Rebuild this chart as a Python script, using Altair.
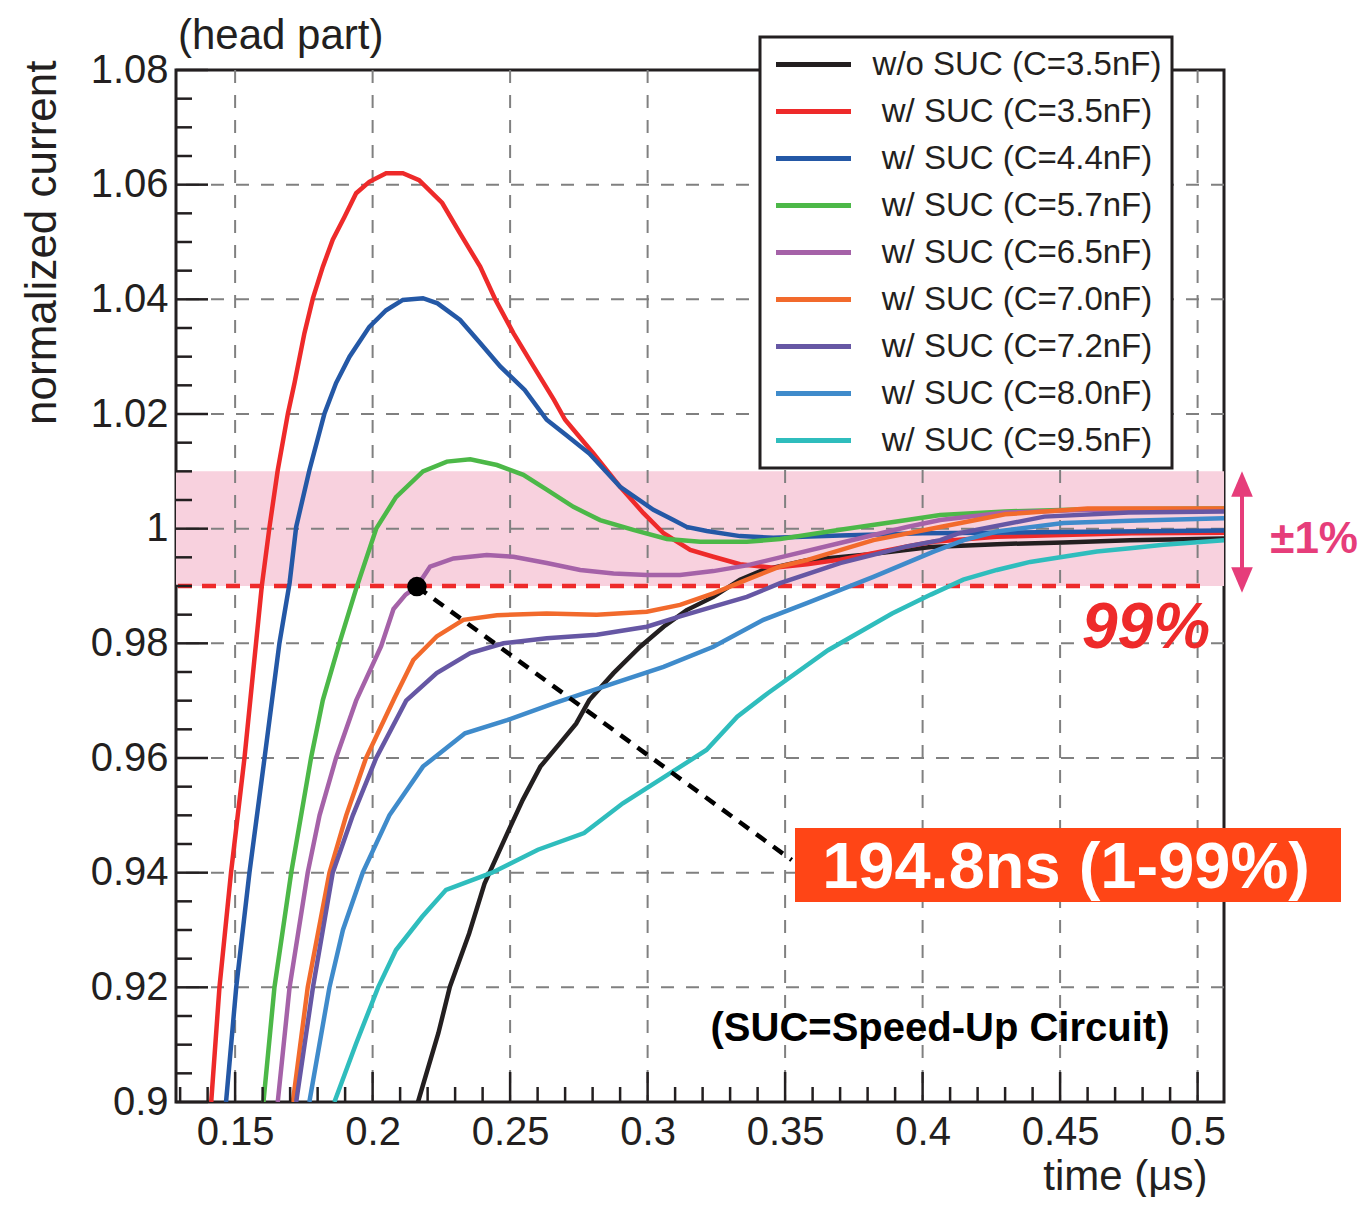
import altair as alt
import pandas as pd

FONT = "Liberation Sans"
INK = "#231f20"

SERIES = ["w/o SUC (C=3.5nF)", "w/ SUC (C=3.5nF)", "w/ SUC (C=4.4nF)", "w/ SUC (C=5.7nF)",
          "w/ SUC (C=6.5nF)", "w/ SUC (C=7.0nF)", "w/ SUC (C=7.2nF)", "w/ SUC (C=8.0nF)",
          "w/ SUC (C=9.5nF)"]
COLORS = ["#231f20", "#ee2a2a", "#2458a6", "#4cb848", "#a562a8", "#f26a2c", "#6657a4",
          "#3f8bcb", "#2fbdbd"]

BLACK_T = [0.2165, 0.2239, 0.2281, 0.2351, 0.2407, 0.2490, 0.2546, 0.2610, 0.2680, 0.2740,
           0.2788, 0.2876, 0.2973, 0.3058, 0.3142, 0.3239, 0.3336, 0.3421, 0.3579, 0.3800,
           0.4030, 0.4270, 0.4512, 0.4755, 0.5096]
BLACK_I = [0.9000, 0.9120, 0.9201, 0.9294, 0.9381, 0.9469, 0.9527, 0.9585, 0.9625, 0.9660,
           0.9701, 0.9748, 0.9794, 0.9829, 0.9858, 0.9881, 0.9911, 0.9928, 0.9945, 0.9955,
           0.9968, 0.9973, 0.9976, 0.9980, 0.9983]

RED_T = [0.1413, 0.1443, 0.1485, 0.1534, 0.1576, 0.1597, 0.1625, 0.1655, 0.1692, 0.1716,
         0.1752, 0.1783, 0.1819, 0.1855, 0.1898, 0.1940, 0.1988, 0.2049, 0.2110, 0.2169,
         0.2253, 0.2318, 0.2391, 0.2447, 0.2512, 0.2585, 0.2659, 0.2700, 0.2803, 0.2900,
         0.2985, 0.3058, 0.3155, 0.3239, 0.3336, 0.3457, 0.3580, 0.3700, 0.3943, 0.4040,
         0.4270, 0.4510, 0.4760, 0.5096]
RED_I = [0.9000, 0.9200, 0.9400, 0.9600, 0.9800, 0.9900, 1.0003, 1.0102, 1.0201, 1.0254,
         1.0341, 1.0402, 1.0457, 1.0504, 1.0544, 1.0585, 1.0605, 1.0620, 1.0620, 1.0608,
         1.0568, 1.0515, 1.0457, 1.0399, 1.0341, 1.0283, 1.0225, 1.0190, 1.0131, 1.0073,
         1.0027, 0.9992, 0.9963, 0.9951, 0.9938, 0.9932, 0.9938, 0.9946, 0.9969, 0.9977,
         0.9986, 0.9989, 0.9992, 0.9993]

BLUE_T = [0.1467, 0.1504, 0.1552, 0.1607, 0.1661, 0.1698, 0.1722, 0.1770, 0.1825, 0.1867,
          0.1916, 0.1988, 0.2049, 0.2110, 0.2183, 0.2236, 0.2318, 0.2391, 0.2464, 0.2553,
          0.2633, 0.2699, 0.2788, 0.2900, 0.3021, 0.3094, 0.3142, 0.3215, 0.3336, 0.3457,
          0.3700, 0.4000, 0.4500, 0.5096]
BLUE_I = [0.9000, 0.9200, 0.9400, 0.9600, 0.9800, 0.9905, 1.0003, 1.0102, 1.0201, 1.0254,
          1.0300, 1.0352, 1.0381, 1.0399, 1.0402, 1.0393, 1.0364, 1.0324, 1.0283, 1.0242,
          1.0190, 1.0165, 1.0131, 1.0073, 1.0033, 1.0015, 1.0003, 0.9996, 0.9987, 0.9984,
          0.9988, 0.9992, 0.9994, 0.9997]

GREEN_T = [0.1603, 0.1643, 0.1704, 0.1776, 0.1819, 0.1879, 0.1940, 0.2013, 0.2085, 0.2183,
           0.2270, 0.2355, 0.2452, 0.2548, 0.2633, 0.2730, 0.2827, 0.2948, 0.3070, 0.3191,
           0.3361, 0.3482, 0.3700, 0.3943, 0.4064, 0.4300, 0.4600, 0.5096]
GREEN_I = [0.9000, 0.9200, 0.9400, 0.9600, 0.9701, 0.9800, 0.9895, 1.0000, 1.0055, 1.0100,
           1.0117, 1.0121, 1.0111, 1.0094, 1.0068, 1.0038, 1.0015, 0.9998, 0.9982, 0.9977,
           0.9977, 0.9982, 0.9998, 1.0015, 1.0024, 1.0030, 1.0034, 1.0035]

PURPLE_T = [0.1655, 0.1698, 0.1764, 0.1807, 0.1867, 0.1940, 0.2031, 0.2076, 0.2120, 0.2161,
            0.2209, 0.2294, 0.2415, 0.2512, 0.2633, 0.2755, 0.2876, 0.2997, 0.3118, 0.3239,
            0.3361, 0.3482, 0.3700, 0.3943, 0.4064, 0.4300, 0.4600, 0.5096]
PURPLE_I = [0.9000, 0.9200, 0.9400, 0.9500, 0.9600, 0.9700, 0.9795, 0.9860, 0.9885, 0.9899,
            0.9934, 0.9948, 0.9954, 0.9951, 0.9940, 0.9928, 0.9922, 0.9919, 0.9919, 0.9926,
            0.9936, 0.9950, 0.9975, 1.0003, 1.0015, 1.0028, 1.0033, 1.0033]

ORANGE_T = [0.1710, 0.1764, 0.1843, 0.1904, 0.1976, 0.2080, 0.2148, 0.2233, 0.2330, 0.2452,
            0.2633, 0.2815, 0.2997, 0.3118, 0.3239, 0.3361, 0.3482, 0.3579, 0.3821, 0.4064,
            0.4300, 0.4600, 0.5096]
ORANGE_I = [0.9000, 0.9200, 0.9400, 0.9500, 0.9600, 0.9705, 0.9771, 0.9812, 0.9841, 0.9849,
            0.9852, 0.9850, 0.9855, 0.9867, 0.9887, 0.9911, 0.9934, 0.9945, 0.9980, 1.0003,
            1.0025, 1.0035, 1.0035]

VIOLET_T = [0.1722, 0.1783, 0.1855, 0.1928, 0.2013, 0.2122, 0.2233, 0.2355, 0.2476, 0.2633,
            0.2815, 0.2997, 0.3118, 0.3239, 0.3361, 0.3482, 0.3700, 0.3943, 0.4064, 0.4133,
            0.4443, 0.4750, 0.5096]
VIOLET_I = [0.9000, 0.9200, 0.9400, 0.9500, 0.9600, 0.9700, 0.9748, 0.9783, 0.9800, 0.9809,
            0.9815, 0.9829, 0.9847, 0.9864, 0.9881, 0.9905, 0.9940, 0.9969, 0.9980, 0.9992,
            1.0021, 1.0028, 1.0030]

LBLUE_T = [0.1770, 0.1843, 0.1892, 0.1964, 0.2061, 0.2183, 0.2336, 0.2489, 0.2656, 0.2876,
           0.3058, 0.3239, 0.3421, 0.3579, 0.3821, 0.4040, 0.4150, 0.4270, 0.4512, 0.4755,
           0.5096]
LBLUE_I = [0.9000, 0.9200, 0.9300, 0.9400, 0.9500, 0.9585, 0.9643, 0.9666, 0.9695, 0.9730,
           0.9759, 0.9794, 0.9841, 0.9870, 0.9916, 0.9960, 0.9980, 0.9995, 1.0010, 1.0014,
           1.0018]

TEAL_T = [0.1861, 0.1940, 0.2020, 0.2085, 0.2180, 0.2267, 0.2434, 0.2601, 0.2769, 0.2910,
          0.3061, 0.3214, 0.3326, 0.3437, 0.3656, 0.3889, 0.4030, 0.4148, 0.4270, 0.4391,
          0.4512, 0.4634, 0.4755, 0.4876, 0.5096]
TEAL_I = [0.9000, 0.9102, 0.9200, 0.9265, 0.9323, 0.9370, 0.9400, 0.9440, 0.9469, 0.9521,
          0.9567, 0.9614, 0.9672, 0.9713, 0.9788, 0.9852, 0.9885, 0.9911, 0.9928, 0.9942,
          0.9951, 0.9960, 0.9966, 0.9972, 0.9980]

T_LISTS = [BLACK_T, RED_T, BLUE_T, GREEN_T, PURPLE_T, ORANGE_T, VIOLET_T, LBLUE_T, TEAL_T]
I_LISTS = [BLACK_I, RED_I, BLUE_I, GREEN_I, PURPLE_I, ORANGE_I, VIOLET_I, LBLUE_I, TEAL_I]

XMAJOR = [0.15, 0.2, 0.25, 0.3, 0.35, 0.4, 0.45, 0.5]
XMINOR = [0.13, 0.14, 0.16, 0.17, 0.18, 0.19, 0.21, 0.22, 0.23, 0.24, 0.26, 0.27, 0.28, 0.29,
          0.31, 0.32, 0.33, 0.34, 0.36, 0.37, 0.38, 0.39, 0.41, 0.42, 0.43, 0.44, 0.46, 0.47,
          0.48, 0.49]
YMAJOR = [0.9, 0.92, 0.94, 0.96, 0.98, 1.0, 1.02, 1.04, 1.06, 1.08]
YGRID = [0.92, 0.94, 0.96, 0.98, 1.0, 1.02, 1.04, 1.06]
YMINOR = [0.905, 0.91, 0.915, 0.925, 0.93, 0.935, 0.945, 0.95, 0.955, 0.965, 0.97, 0.975,
          0.985, 0.99, 0.995, 1.005, 1.01, 1.015, 1.025, 1.03, 1.035, 1.045, 1.05, 1.055,
          1.065, 1.07, 1.075]

BAND_LO, BAND_HI = [0.99], [1.01]
LEVEL_99 = [0.99]
CONNECT_T = [0.2161, 0.3524]
CONNECT_I = [0.9899, 0.9422]

W, H = 1048, 1032

rows = []
for name, ts, vs in zip(SERIES, T_LISTS, I_LISTS):
    for t, v in zip(ts, vs):
        rows.append({"series": name, "t": t, "i": v})
df = pd.DataFrame(rows)

XS = alt.Scale(domain=[0.1285, 0.5096], nice=False, zero=False)
YS = alt.Scale(domain=[0.9, 1.08], nice=False, zero=False)

XA = alt.Axis(values=XMAJOR, format=".2~f", grid=False, ticks=False, domain=False,
              labelFont=FONT, labelFontSize=40, labelColor=INK, labelPadding=10,
              labelFlush=False, labelOverlap=False,
              title="time (μs)", titleFont=FONT, titleFontSize=42, titleFontWeight="normal",
              titleColor=INK, titleX=1031, titleY=87, titleAlign="right",
              titleBaseline="alphabetic", titleAngle=0)
YA = alt.Axis(values=YMAJOR, format=".2~f", grid=False, ticks=False, domain=False,
              labelFont=FONT, labelFontSize=40, labelColor=INK, labelPadding=8,
              labelFlush=False, labelOverlap=False,
              title="normalized current", titleFont=FONT, titleFontSize=44,
              titleFontWeight="normal", titleColor=INK, titleX=-121, titleY=-10,
              titleAlign="right", titleBaseline="alphabetic", titleAngle=270)


def X(field="t"):
    return alt.X(f"{field}:Q", scale=XS, axis=XA)


def Y(field="i"):
    return alt.Y(f"{field}:Q", scale=YS, axis=YA)


band = alt.Chart(pd.DataFrame({"i": BAND_LO, "i_hi": BAND_HI})).mark_rect(
    color="#f8d1de").encode(
    x=alt.value(0), x2=alt.value(W), y=Y(), y2="i_hi:Q")

gridx = alt.Chart(pd.DataFrame({"t": XMAJOR})).mark_rule(
    color="#808080", strokeWidth=2, strokeDash=[13, 12]).encode(x=X())
gridy = alt.Chart(pd.DataFrame({"i": YGRID})).mark_rule(
    color="#808080", strokeWidth=2, strokeDash=[13, 12]).encode(y=Y())

level = alt.Chart(pd.DataFrame({"i": LEVEL_99})).mark_rule(
    color="#ee2a2a", strokeWidth=4.5, strokeDash=[14, 10]).encode(
    y=Y(), x=alt.value(2), x2=alt.value(1034))

lines = alt.Chart(df).mark_line(strokeWidth=4.5, clip=True).encode(
    x=X(), y=Y(),
    color=alt.Color("series:N", scale=alt.Scale(domain=SERIES, range=COLORS),
                    legend=alt.Legend(title=None, orient="none", legendX=584, legendY=-33,
                                      symbolType="M-2.5,0H2.5", symbolSize=900,
                                      symbolOffset=26, symbolStrokeWidth=5,
                                      symbolOpacity=1,
                                      labelFont=FONT, labelFontSize=33, labelColor=INK,
                                      labelAlign="center", labelOffset=186, labelLimit=600,
                                      padding=10, rowPadding=12,
                                      strokeColor=INK, fillColor="white")),
    order=alt.Order("t:Q"))

conn_df = pd.DataFrame({"t": CONNECT_T, "i": CONNECT_I})
connector = alt.Chart(conn_df).mark_line(color="black", strokeWidth=4.5,
                                         strokeDash=[12, 9]).encode(x=X(), y=Y())
dot = alt.Chart(conn_df.iloc[:1]).mark_circle(color="black", size=380, opacity=1).encode(
    x=X(), y=Y())

xmaj = alt.Chart(pd.DataFrame({"t": XMAJOR})).mark_rule(color=INK, strokeWidth=2.5).encode(
    x=X(), y=alt.value(H), y2=alt.value(H - 30))
xmin = alt.Chart(pd.DataFrame({"t": XMINOR})).mark_rule(color=INK, strokeWidth=2.5).encode(
    x=X(), y=alt.value(H), y2=alt.value(H - 15))
ymaj = alt.Chart(pd.DataFrame({"i": YMAJOR})).mark_rule(color=INK, strokeWidth=2.5).encode(
    y=Y(), x=alt.value(0), x2=alt.value(32))
ymin = alt.Chart(pd.DataFrame({"i": YMINOR})).mark_rule(color=INK, strokeWidth=2.5).encode(
    y=Y(), x=alt.value(0), x2=alt.value(16))

one = pd.DataFrame({"k": [0]})

head = alt.Chart(one).mark_text(text="(head part)", font=FONT, fontSize=42, color=INK,
                                align="left", baseline="alphabetic").encode(
    x=alt.value(2), y=alt.value(-21))

suc = alt.Chart(one).mark_text(text="(SUC=Speed-Up Circuit)", font=FONT, fontSize=40,
                               fontWeight="bold", color="black", align="center",
                               baseline="alphabetic").encode(
    x=alt.value(764), y=alt.value(971))

box = alt.Chart(one).mark_rect(color="#ff4516").encode(
    x=alt.value(619), x2=alt.value(1165), y=alt.value(758), y2=alt.value(832))
box_text = alt.Chart(one).mark_text(text="194.8ns (1-99%)", font=FONT, fontSize=65,
                                    fontWeight="bold", color="white", align="center",
                                    baseline="alphabetic").encode(
    x=alt.value(890), y=alt.value(818))

pct99 = alt.Chart(one).mark_text(text="99%", font=FONT, fontSize=64, fontWeight="bold",
                                 fontStyle="italic", color="#ee2a2a", align="center",
                                 baseline="alphabetic").encode(
    x=alt.value(970), y=alt.value(578))

PINK = "#e63d7a"
pm = alt.Chart(one).mark_text(text="±1%", font=FONT, fontSize=44, fontWeight="bold",
                              color=PINK, align="right", baseline="alphabetic").encode(
    x=alt.value(1182), y=alt.value(483))
arrow_shaft = alt.Chart(one).mark_rule(color=PINK, strokeWidth=4).encode(
    x=alt.value(1066), y=alt.value(420), y2=alt.value(505))
arrow_up = alt.Chart(one).mark_point(shape="M0,-1L0.85,1L-0.85,1Z", filled=True, size=650,
                                     color=PINK, opacity=1).encode(
    x=alt.value(1066), y=alt.value(414))
arrow_dn = alt.Chart(one).mark_point(shape="M0,1L0.85,-1L-0.85,-1Z", filled=True, size=650,
                                     color=PINK, opacity=1).encode(
    x=alt.value(1066), y=alt.value(510))

chart = alt.layer(
    band, gridx, gridy, level, lines, connector, dot, xmaj, xmin, ymaj, ymin,
    head, suc, box, box_text, pct99, pm, arrow_shaft, arrow_up, arrow_dn
).properties(
    width=W, height=H,
    autosize=alt.AutoSizeParams(type="none"),
    padding={"left": 168, "top": 62, "right": 136, "bottom": 95},
).configure_view(
    stroke=INK, strokeWidth=3
).configure_legend(
    strokeWidth=3
)

chart.save("out.html", embed_options={"renderer": "svg", "actions": False})
